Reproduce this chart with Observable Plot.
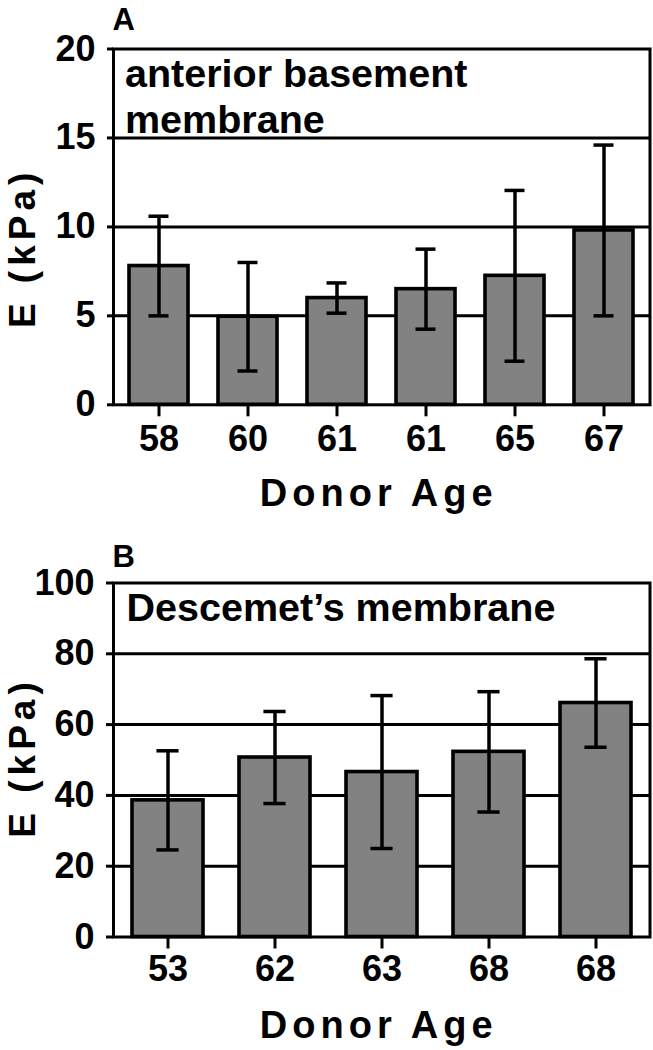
<!DOCTYPE html>
<html><head><meta charset="utf-8">
<script src="https://cdn.jsdelivr.net/npm/d3@7"></script>
<script src="https://cdn.jsdelivr.net/npm/@observablehq/plot@0.6"></script>
<style>
body{margin:0;background:#fff;}
#chart{width:653px;}
#chart svg{display:block;}
</style></head><body><div id="chart"></div>
<script>
// Panel A: anterior basement membrane
const agesA = ["58", "60", "61", "61", "65", "67"];
const meanA = [7.8, 4.95, 6.0, 6.5, 7.25, 9.8];
const errA = [2.8, 3.05, 0.85, 2.25, 4.8, 4.8];
const ticksA = [0, 5, 10, 15, 20];
// Panel B: Descemet's membrane
const agesB = ["53", "62", "63", "68", "68"];
const meanB = [38.6, 50.7, 46.6, 52.3, 66.1];
const errB = [14, 13, 21.6, 17, 12.5];
const ticksB = [0, 20, 40, 60, 80, 100];
const panelLetters = ["A", "B"];
const panelTitles = ["anterior basement\nmembrane", "Descemet\u2019s membrane"];
const xLabel = "Donor Age";
const yLabel = "E (kPa)";

const FONT = "'Liberation Sans', Arial, Helvetica, sans-serif";

function panel(cfg) {
  const {ages, mean, err, ticks, letter, title, height, marginTop, marginBottom,
         capW, xPad, yTick, yPad, titleOpts, letterDy, yLabelDy, xLabelDy} = cfg;
  const data = ages.map((a, i) => ({i, m: mean[i], lo: mean[i] - err[i], hi: mean[i] + err[i]}));
  const W = 653, ml = 113, mr = 3.5, pad = 0.34;
  const step = (W - ml - mr) / ages.length;
  const bw = step * (1 - pad);
  const inset = (bw - capW) / 2;
  const svg = Plot.plot({
    width: W, height, marginTop, marginBottom, marginLeft: ml, marginRight: mr,
    style: {fontFamily: FONT, color: "black", background: "white", overflow: "visible"},
    x: {type: "band", domain: d3.range(ages.length), paddingInner: pad, paddingOuter: pad / 2},
    y: {domain: [ticks[0], ticks[ticks.length - 1]]},
    marks: [
      Plot.ruleY(ticks.slice(1, -1), {stroke: "black", strokeWidth: 3}),
      Plot.barY(data, {x: "i", y: "m", fill: "#828282", stroke: "black", strokeWidth: 3.6}),
      Plot.ruleX(data, {x: "i", y1: "lo", y2: "hi", stroke: "black", strokeWidth: 3.5}),
      Plot.tickY(data, {x: "i", y: "lo", stroke: "black", strokeWidth: 3.5, insetLeft: inset, insetRight: inset}),
      Plot.tickY(data, {x: "i", y: "hi", stroke: "black", strokeWidth: 3.5, insetLeft: inset, insetRight: inset}),
      Plot.frame({stroke: "black", strokeWidth: 3}),
      Plot.axisY({ticks, tickSize: yTick, tickPadding: yPad, fontSize: 36,
        fontWeight: "bold", strokeWidth: 3, label: null}),
      Plot.axisX({tickSize: 12, tickPadding: xPad, tickFormat: (d) => ages[d], fontSize: 36,
        fontWeight: "bold", strokeWidth: 3, label: null}),
      Plot.text([letter], {frameAnchor: "top-left", text: (d) => d, textAnchor: "start", lineAnchor: "bottom",
        dx: -1, dy: letterDy, fontSize: 31, fontWeight: "bold", fill: "black"}),
      Plot.text([title], {frameAnchor: "top-left", text: (d) => d, textAnchor: "start", fontSize: 39.5,
        fontWeight: "bold", fill: "black", lineHeight: 46 / 39.5, ...titleOpts}),
      Plot.text([xLabel], {frameAnchor: "bottom", text: (d) => d, textAnchor: "middle", lineAnchor: "bottom",
        dx: -3, dy: xLabelDy, fontSize: 38, fontWeight: "bold", fill: "black"}),
      Plot.text([yLabel], {frameAnchor: "left", text: (d) => d, textAnchor: "middle", lineAnchor: "bottom",
        rotate: -90, dx: -79, dy: yLabelDy, fontSize: 37, fontWeight: "bold", fill: "black"})
    ]
  });
  svg.querySelectorAll("text").forEach((t) => {
    if (t.textContent === xLabel) t.style.letterSpacing = "5px";
    if (t.textContent === yLabel) t.style.letterSpacing = "5px";
  });
  return svg;
}

const chart = document.getElementById("chart");
chart.append(panel({
  ages: agesA, mean: meanA, err: errA, ticks: ticksA, letter: panelLetters[0], title: panelTitles[0],
  height: 520, marginTop: 48.5, marginBottom: 115.7, capW: 20, xPad: 9, yTick: 6, yPad: 12,
  titleOpts: {lineAnchor: "top", dx: 11.5, dy: 5.5}, letterDy: -19.5, yLabelDy: 21, xLabelDy: 101
}));
chart.append(panel({
  ages: agesB, mean: meanB, err: errB, ticks: ticksB, letter: panelLetters[1], title: panelTitles[1],
  height: 530, marginTop: 62.5, marginBottom: 113.5, capW: 22, xPad: 6.5, yTick: 7, yPad: 12,
  titleOpts: {lineAnchor: "bottom", dx: 13, dy: 37.5}, letterDy: -16.5, yLabelDy: -2.5, xLabelDy: 100.5
}));
</script>
</body></html>
